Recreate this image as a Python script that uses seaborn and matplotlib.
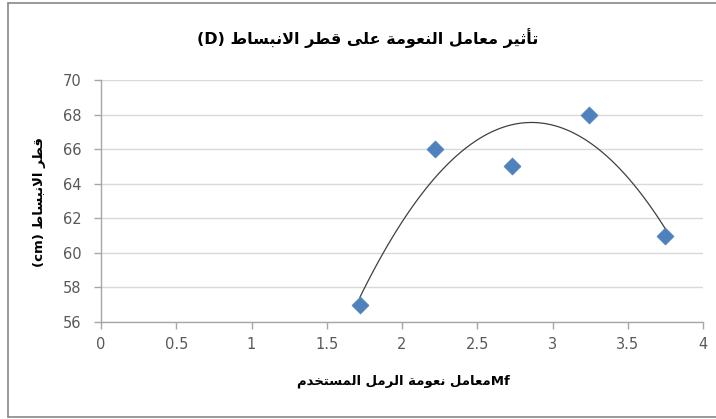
import matplotlib
matplotlib.use("Agg")
import matplotlib.pyplot as plt
from matplotlib.lines import Line2D
import seaborn as sns
import pandas as pd

# Fineness modulus of sand (Mf) vs. flow diameter D (cm)
fineness_modulus = [1.72, 2.22, 2.73, 3.24, 3.75]
flow_diameter = [57, 66, 65, 68, 61]

x_ticks = [0, 0.5, 1, 1.5, 2, 2.5, 3, 3.5, 4]
y_ticks = [56, 58, 60, 62, 64, 66, 68, 70]

title_ar = "تأثير معامل النعومة على قطر الانبساط"
ylabel_ar = "قطر الانبساط"
xlabel_ar = "معامل نعومة الرمل المستخدم"

# Arabic contextual forms: (isolated, final, initial, medial)
FORMS = {
    "\u0627": ("\uFE8D", "\uFE8E", None, None),
    "\u0623": ("\uFE83", "\uFE84", None, None),
    "\u0628": ("\uFE8F", "\uFE90", "\uFE91", "\uFE92"),
    "\u0629": ("\uFE93", "\uFE94", None, None),
    "\u062A": ("\uFE95", "\uFE96", "\uFE97", "\uFE98"),
    "\u062B": ("\uFE99", "\uFE9A", "\uFE9B", "\uFE9C"),
    "\u062E": ("\uFEA5", "\uFEA6", "\uFEA7", "\uFEA8"),
    "\u062F": ("\uFEA9", "\uFEAA", None, None),
    "\u0631": ("\uFEAD", "\uFEAE", None, None),
    "\u0633": ("\uFEB1", "\uFEB2", "\uFEB3", "\uFEB4"),
    "\u0637": ("\uFEC1", "\uFEC2", "\uFEC3", "\uFEC4"),
    "\u0639": ("\uFEC9", "\uFECA", "\uFECB", "\uFECC"),
    "\u0642": ("\uFED5", "\uFED6", "\uFED7", "\uFED8"),
    "\u0644": ("\uFEDD", "\uFEDE", "\uFEDF", "\uFEE0"),
    "\u0645": ("\uFEE1", "\uFEE2", "\uFEE3", "\uFEE4"),
    "\u0646": ("\uFEE5", "\uFEE6", "\uFEE7", "\uFEE8"),
    "\u0648": ("\uFEED", "\uFEEE", None, None),
    "\u0649": ("\uFEEF", "\uFEF0", None, None),
    "\u064A": ("\uFEF1", "\uFEF2", "\uFEF3", "\uFEF4"),
}
LAM_ALEF = {"\u0627": ("\uFEFB", "\uFEFC"), "\u0623": ("\uFEF7", "\uFEF8")}


def shape_ar(text):
    """Join Arabic letters into their contextual forms, in visual (LTR) order."""
    out = []
    chars = list(text)
    i = 0
    prev_joins = False
    while i < len(chars):
        c = chars[i]
        if c not in FORMS:
            out.append(c)
            prev_joins = False
            i += 1
            continue
        nxt = chars[i + 1] if i + 1 < len(chars) else None
        if c == "\u0644" and nxt in LAM_ALEF:
            iso, fin = LAM_ALEF[nxt]
            out.append(fin if prev_joins else iso)
            prev_joins = False
            i += 2
            continue
        iso, fin, ini, med = FORMS[c]
        joins_next = ini is not None and nxt in FORMS
        if prev_joins and joins_next:
            out.append(med)
        elif prev_joins:
            out.append(fin)
        elif joins_next:
            out.append(ini)
        else:
            out.append(iso)
        prev_joins = ini is not None
        i += 1
    return "".join(reversed(out))


sns.set_style("white")
plt.rcParams["font.family"] = ["DejaVu Sans"]

fig = plt.figure(figsize=(7.16, 4.19), dpi=100)
ax = fig.add_axes([101 / 716, 1 - 322 / 419, 602 / 716, 242 / 419])

df = pd.DataFrame({"Mf": fineness_modulus, "D": flow_diameter})

# second-order polynomial trend over the data range
sns.regplot(data=df, x="Mf", y="D", order=2, ci=None, scatter=False,
            truncate=True, ax=ax,
            line_kws=dict(color="#404040", lw=0.9, zorder=2))
sns.scatterplot(data=df, x="Mf", y="D", marker="D", s=75, color="#4F81BD",
                edgecolor="#4F81BD", linewidth=0.5, ax=ax, zorder=3)

ax.set_xlim(0, 4)
ax.set_ylim(56, 70)
ax.set_xticks(x_ticks)
ax.set_xticklabels([f"{v:g}" for v in x_ticks])
ax.set_yticks(y_ticks)
ax.set_yticklabels([str(v) for v in y_ticks])
ax.set_xlabel("")
ax.set_ylabel("")

ax.yaxis.grid(True, color="#D9D9D9", lw=1.0)
ax.xaxis.grid(False)
ax.set_axisbelow(True)
for side in ("top", "right"):
    ax.spines[side].set_visible(False)
for side in ("left", "bottom"):
    ax.spines[side].set_color("#A6A6A6")
    ax.spines[side].set_linewidth(1.0)
ax.tick_params(axis="both", which="major", length=5, width=1.0,
               color="#A6A6A6", labelcolor="#595959", labelsize=10.5,
               direction="out", left=True, bottom=True)
ax.tick_params(axis="x", pad=6)
ax.tick_params(axis="y", pad=9)

# titles and axis labels
fig.text(368 / 716, 1 - 38 / 419, "(D) " + shape_ar(title_ar),
         ha="center", va="center", fontsize=11.5, fontweight="bold",
         color="#000000")
fig.text(403 / 716, 1 - 381 / 419, shape_ar(xlabel_ar) + "Mf",
         ha="center", va="center", fontsize=9.5, fontweight="bold",
         color="#000000")
fig.text(40 / 716, 1 - 202 / 419, "(cm) " + shape_ar(ylabel_ar),
         ha="center", va="center", rotation=90, fontsize=9.5,
         fontweight="bold", color="#000000")

# chart-area border: left, top and bottom edges (right edge lies off-canvas)
x0, y_top, y_bot = 8 / 716, 1 - 3 / 419, 1 - 417 / 419
for xs, ys in (([x0, x0], [y_bot, y_top]),
               ([x0, 1.0], [y_top, y_top]),
               ([x0, 1.0], [y_bot, y_bot])):
    fig.add_artist(Line2D(xs, ys, transform=fig.transFigure,
                          color="#888888", lw=1.2))

fig.savefig("out.png", dpi=100)
